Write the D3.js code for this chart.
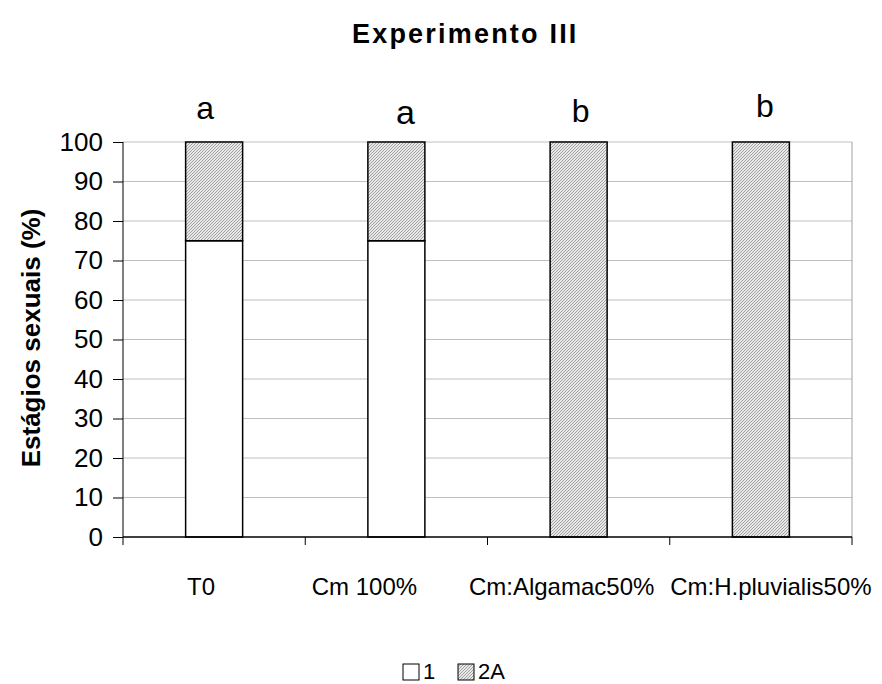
<!DOCTYPE html>
<html><head><meta charset="utf-8">
<script src="https://cdn.jsdelivr.net/npm/d3@7"></script>
<style>body{margin:0;background:#fff}svg{display:block}text{font-family:Arial,"Liberation Sans",sans-serif}</style>
</head><body>
<script>
const categories = ["T0","Cm 100%","Cm:Algamac50%","Cm:H.pluvialis50%"];
const stage1 = [75,75,0,0];
const stage2A = [25,25,100,100];
const letters = ["a","a","b","b"];
const letterSerif = [false,true,false,false];
const yTicks = [0,10,20,30,40,50,60,70,80,90,100];
const seriesNames = ["1","2A"];

const W=882,H=684;
const m={l:123,r:852,t:142,b:537};
const svg=d3.select("body").append("svg").attr("width",W).attr("height",H);
const defs=svg.append("defs");
const pat=defs.append("pattern").attr("id","hatch").attr("patternUnits","userSpaceOnUse").attr("width",3).attr("height",3);
pat.append("rect").attr("width",3).attr("height",3).attr("fill","#e8e8e8");
pat.append("path").attr("d","M-1,1 L1,-1 M0,3 L3,0 M2,4 L4,2").attr("stroke","#9a9a9a").attr("stroke-width",0.9);

const x=d3.scaleBand().domain(categories).range([m.l,m.r]).paddingInner(0).paddingOuter(0);
const y=d3.scaleLinear().domain([0,100]).range([m.b,m.t]);
const bw=57;

svg.append("g").selectAll("line").data(yTicks.filter(d=>d>0)).join("line")
 .attr("x1",m.l).attr("x2",m.r).attr("y1",d=>y(d)).attr("y2",d=>y(d))
 .attr("stroke","#c0c0c0").attr("stroke-width",1);
svg.append("line").attr("x1",m.r).attr("x2",m.r).attr("y1",m.t).attr("y2",m.b).attr("stroke","#a0a0a0");

const data=categories.map((c,i)=>({c,v1:stage1[i],v2:stage2A[i]}));
const g=svg.append("g");
data.forEach(d=>{
  const cx=x(d.c)+x.bandwidth()/2;
  if(d.v1>0) g.append("rect").attr("x",cx-bw/2).attr("width",bw).attr("y",y(d.v1)).attr("height",y(0)-y(d.v1)).attr("fill","#fff").attr("stroke","#000").attr("stroke-width",1.5);
  if(d.v2>0) g.append("rect").attr("x",cx-bw/2).attr("width",bw).attr("y",y(d.v1+d.v2)).attr("height",y(d.v1)-y(d.v1+d.v2)).attr("fill","url(#hatch)").attr("stroke","#000").attr("stroke-width",1.5);
});

const ya=svg.append("g").attr("transform",`translate(${m.l},0)`).call(d3.axisLeft(y).tickValues(yTicks).tickSize(10).tickPadding(10));
ya.select(".domain").attr("stroke","#000").attr("d",`M0,${m.t}V${m.b}`);
ya.selectAll("line").attr("stroke","#000");
ya.selectAll("text").attr("font-size",26).attr("fill","#000").attr("font-family","Arial,'Liberation Sans',sans-serif");

const xa=svg.append("g").attr("transform",`translate(0,${m.b})`);
xa.append("line").attr("x1",m.l).attr("x2",m.r).attr("stroke","#000").attr("stroke-width",1.5);
const bounds=categories.map(c=>x(c)).concat([m.r]);
xa.selectAll("line.t").data(bounds).join("line").attr("class","t").attr("x1",d=>d).attr("x2",d=>d).attr("y1",0).attr("y2",8).attr("stroke","#000");
const labDx=[-13,-32,-17,10];
xa.selectAll("text").data(categories).join("text").attr("x",(d,i)=>x(d)+x.bandwidth()/2+labDx[i]).attr("y",58)
 .attr("text-anchor","middle").attr("font-size",24).attr("fill","#000").text(d=>d);

const letDx=[-9,9,2,4];
const letY=[119,124,122,117];
svg.selectAll("text.let").data(categories).join("text").attr("class","let")
 .attr("x",(d,i)=>x(d)+x.bandwidth()/2+letDx[i]).attr("y",(d,i)=>letY[i]).attr("text-anchor","middle")
 .attr("font-size",(d,i)=>letterSerif[i]?34:32)
 .attr("font-family",(d,i)=>letterSerif[i]?"'Liberation Serif','Times New Roman',serif":"Arial,'Liberation Sans',sans-serif")
 .text((d,i)=>letters[i]);

svg.append("text").attr("x",352).attr("y",43).attr("font-size",27).attr("font-weight","bold").attr("letter-spacing",2.2).text("Experimento III");

svg.append("text").attr("transform","translate(40,338) rotate(-90)").attr("text-anchor","middle").attr("font-size",26).attr("font-weight","bold").text("Estágios sexuais (%)");

const lg=svg.append("g");
const legX=[403,458];
seriesNames.forEach((n,i)=>{
  lg.append("rect").attr("x",legX[i]).attr("y",664).attr("width",16).attr("height",16).attr("fill",i?"url(#hatch)":"#fff").attr("stroke","#000").attr("stroke-width",1);
  lg.append("text").attr("x",legX[i]+20).attr("y",679).attr("font-size",22).text(n);
});
</script>
</body></html>
